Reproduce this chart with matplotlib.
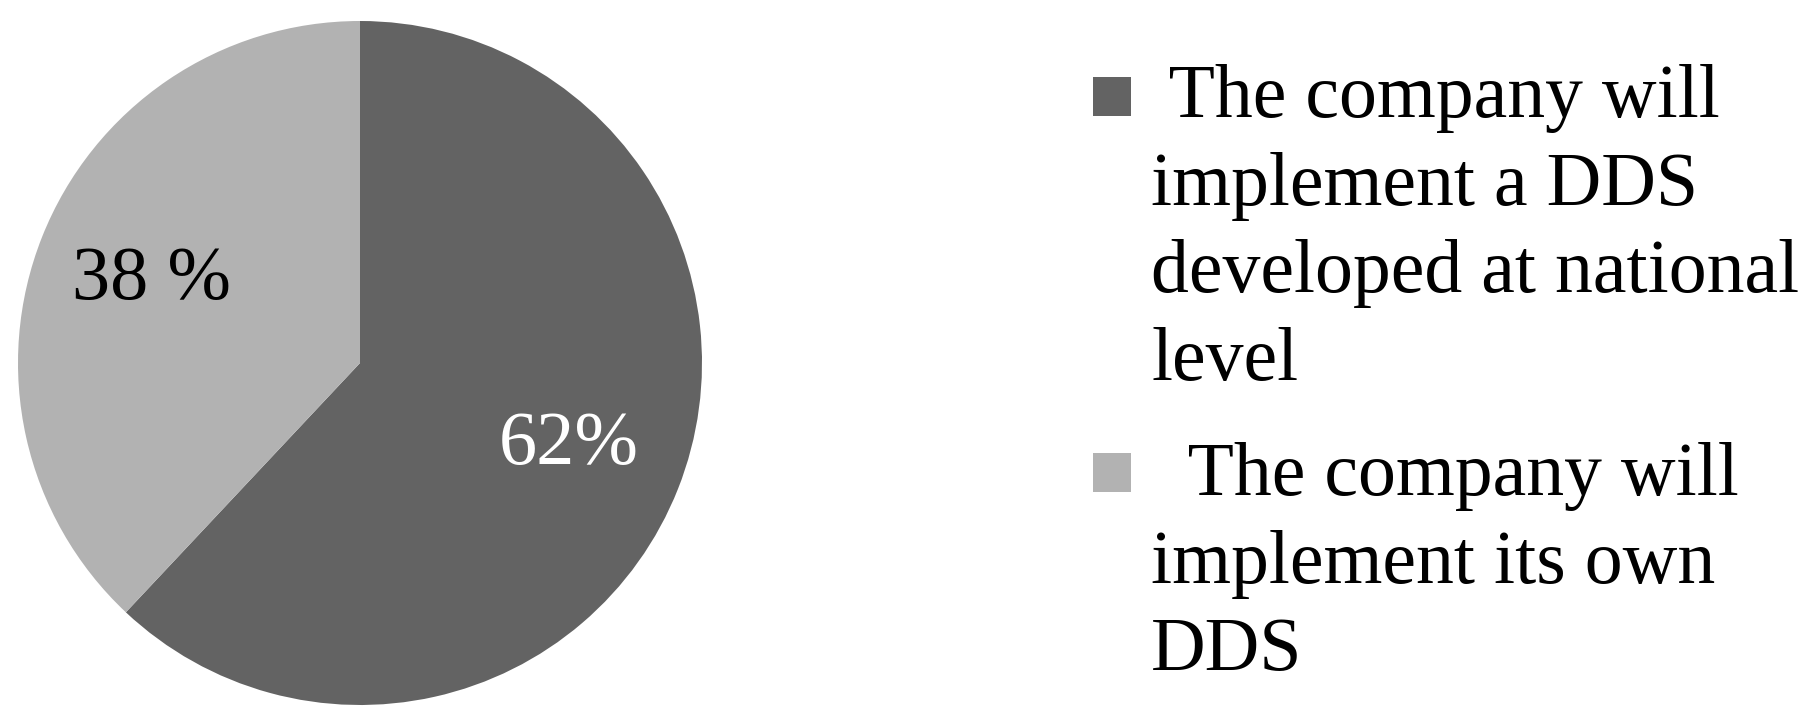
import matplotlib
matplotlib.use("Agg")
import matplotlib.pyplot as plt
from matplotlib.patches import Rectangle

# ---- data ----
categories = [
    "The company will implement a DDS developed at national level",
    "The company will implement its own DDS",
]
legend_labels = [
    " The company will\nimplement a DDS\ndeveloped at national\nlevel",
    "  The company will\nimplement its own\nDDS",
]
shares = [62, 38]
slice_labels = ["62%", "38 %"]
colors = ["#636363", "#b2b2b2"]
label_colors = ["white", "black"]

W, H = 1810, 721
plt.rcParams['font.family'] = ['Liberation Serif', 'DejaVu Serif']
fig = plt.figure(figsize=(W / 100, H / 100), dpi=100)
fig.patch.set_facecolor("white")

# pie axes: center (360,363) px, radius 342 px
cx, cy, r = 360, 363, 342
ax = fig.add_axes([(cx - r) / W, (H - cy - r) / H, 2 * r / W, 2 * r / H])
wedges, texts = ax.pie(shares, colors=colors, startangle=90, counterclock=False,
                       labels=slice_labels, labeldistance=0.655, radius=1,
                       wedgeprops=dict(linewidth=0))
for t, c in zip(texts, label_colors):
    t.set_ha("center")
    t.set_va("center")
    t.set_color(c)
    t.set_fontsize(55)
ax.set_xlim(-1, 1)
ax.set_ylim(-1, 1)
ax.set_aspect("equal")
ax.axis("off")

# legend (drawn manually to match layout)
sq_x, sq_w, sq_h = 1093, 38, 39
text_x = 1151
tops = [64, 442]          # top of text block (px from top)
sq_tops = [77, 453]
for lab, col, top, stop in zip(legend_labels, colors, tops, sq_tops):
    fig.patches.append(Rectangle((sq_x / W, 1 - (stop + sq_h) / H), sq_w / W, sq_h / H,
                                 transform=fig.transFigure, facecolor=col,
                                 edgecolor="none"))
    fig.text(text_x / W, 1 - top / H, lab, ha="left", va="top",
             fontsize=54.5, linespacing=1.35, color="black")

fig.savefig("out.png", dpi=100, facecolor="white")
